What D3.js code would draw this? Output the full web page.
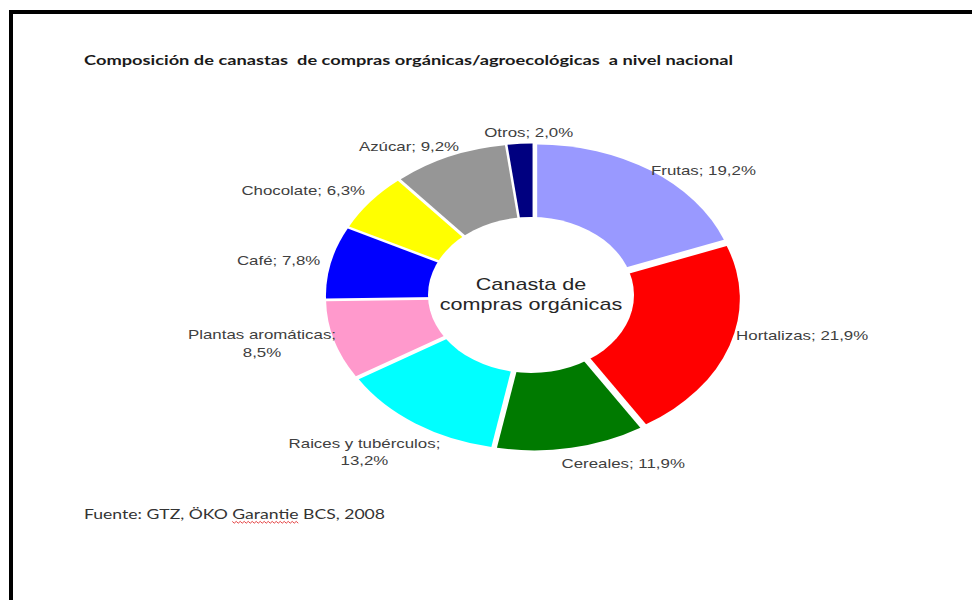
<!DOCTYPE html>
<html>
<head>
<meta charset="utf-8">
<script src="https://cdn.jsdelivr.net/npm/d3@7"></script>
<style>
  html, body { margin: 0; padding: 0; background: #fff; }
  svg { display: block; }
  text { white-space: pre; }
</style>
</head>
<body>
<svg id="chart" width="972" height="600"></svg>
<script>
// Basket composition, percent share per category (clockwise from 12 o'clock)
const categories = ["Frutas", "Hortalizas", "Cereales", "Raices y tubérculos", "Plantas aromáticas",
                    "Café", "Chocolate", "Azúcar", "Otros"];
const shares = [19.2, 21.9, 11.9, 13.2, 8.5, 7.8, 6.3, 9.2, 2.0];
const colors = ["#9999ff", "#ff0000", "#007a00", "#00ffff", "#ff99cc",
                "#0000ff", "#ffff00", "#969696", "#000080"];

const titleText = "Composición de canastas  de compras orgánicas/agroecológicas  a nivel nacional";
const sourceText = "Fuente: GTZ, ÖKO Garantie BCS, 2008";
const centerLines = ["Canasta de", "compras orgánicas"];

// Label placement around the ring: angular nudge (deg) from the slice middle and distance
const labelNudge = [10.3, -7.7, -11.3, 4.3, 3.4, -1.9, -6.2, -7.7, 2.5];
const labelDist = [179, 203, 179, 199, 206, 192, 201, 176, 165];

const svg = d3.select("#chart");
const W = 972, H = 600;
svg.append("rect").attr("width", W).attr("height", H).attr("fill", "#fff");

// frame
svg.append("rect")
  .attr("x", 11).attr("y", 12).attr("width", W + 20).attr("height", H + 20)
  .attr("fill", "none").attr("stroke", "#000").attr("stroke-width", 4);

// title
svg.append("text")
  .attr("x", 84).attr("y", 65)
  .attr("font-family", "Lato, 'Open Sans', sans-serif")
  .attr("font-weight", "bold").attr("font-size", 13)
  .attr("fill", "#1a1a1a")
  .attr("textLength", 649).attr("lengthAdjust", "spacingAndGlyphs")
  .text(titleText);

// pie geometry (drawn as a circle, stretched horizontally)
const cx = 533, cy = 297, R = 148, sx = 1.35, explode = 5.5;
const pie = d3.pie().sort(null).value(d => d);
const arcs = pie(shares);
const arc = d3.arc().innerRadius(0).outerRadius(R);

const pieG = svg.append("g").attr("transform", `translate(${cx},${cy}) scale(${sx},1)`);
pieG.selectAll("path.slice")
  .data(arcs)
  .join("path")
  .attr("class", "slice")
  .attr("d", arc)
  .attr("fill", (d, i) => colors[i])
  .attr("transform", d => {
    const m = (d.startAngle + d.endAngle) / 2;
    return `translate(${Math.sin(m) * explode},${-Math.cos(m) * explode})`;
  });

// white centre with caption
svg.append("ellipse")
  .attr("cx", 531).attr("cy", 295).attr("rx", 103).attr("ry", 78)
  .attr("fill", "#fff");

const centerG = svg.append("g").attr("transform", `translate(531,0)`);
centerLines.forEach((t, i) => {
  centerG.append("g")
    .attr("transform", `translate(0,${290 + i * 20}) scale(${sx},1)`)
    .append("text")
    .attr("text-anchor", "middle")
    .attr("font-family", "'Liberation Sans', Arial, sans-serif")
    .attr("font-size", 16)
    .attr("fill", "#262626")
    .text(t);
});

// slice labels
const fmt = v => d3.format(".1f")(v).replace(".", ",") + "%";
const labelG = svg.append("g");
arcs.forEach((d, i) => {
  const mid = (d.startAngle + d.endAngle) / 2 + labelNudge[i] * Math.PI / 180;
  const x = cx + Math.sin(mid) * labelDist[i] * sx;
  const y = cy - Math.cos(mid) * labelDist[i];
  const name = categories[i];
  const lines = (name.length > 15 && name.includes(" "))
    ? [name + ";", fmt(shares[i])]
    : [name + "; " + fmt(shares[i])];
  const lh = 17.5;
  const g = labelG.append("g").attr("transform", `translate(${x},${y}) scale(${sx},1)`);
  lines.forEach((t, k) => {
    g.append("text")
      .attr("text-anchor", "middle")
      .attr("y", (k - (lines.length - 1) / 2) * lh + 4.5)
      .attr("font-family", "'Liberation Sans', Arial, sans-serif")
      .attr("font-size", 12.5)
      .attr("fill", "#404040")
      .text(t);
  });
});

// source note
const src = svg.append("text")
  .attr("x", 84).attr("y", 519)
  .attr("font-family", "Lato, 'Open Sans', sans-serif")
  .attr("font-size", 14)
  .attr("fill", "#333")
  .attr("textLength", 301).attr("lengthAdjust", "spacingAndGlyphs")
  .text(sourceText);

// spell-check squiggle under "Garantie"
const node = src.node();
const k0 = sourceText.indexOf("Garantie");
const k1 = k0 + "Garantie".length - 1;
const x0 = node.getStartPositionOfChar(k0).x;
const x1 = node.getEndPositionOfChar(k1).x;
const sq = [];
for (let x = x0, j = 0; x <= x1; x += 2, j++) sq.push([x, 522 + (j % 2 ? 1.2 : -0.6)]);
svg.append("path")
  .attr("d", d3.line()(sq))
  .attr("fill", "none").attr("stroke", "#e03030").attr("stroke-width", 0.9);
</script>
</body>
</html>
